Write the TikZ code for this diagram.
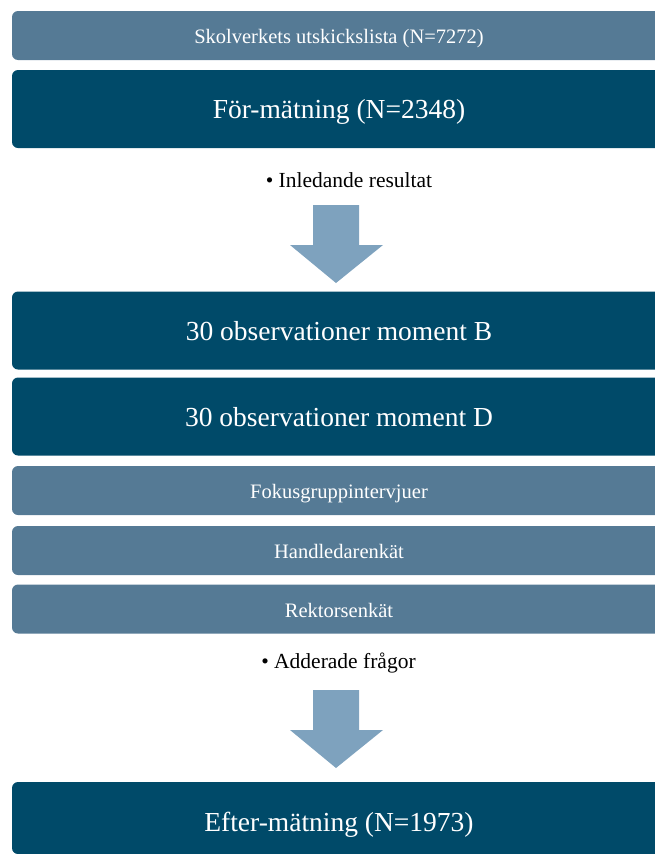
\documentclass[tikz,border=0pt]{standalone}
\usepackage{fontspec}
\setmainfont{Liberation Serif}
\definecolor{lightbox}{HTML}{557A95}
\definecolor{darkbox}{HTML}{004A69}
\definecolor{arrowblue}{HTML}{7EA2BE}
\begin{document}
\begin{tikzpicture}[x=1pt,y=-1pt,
  boxbase/.style={rounded corners=6pt, inner sep=0pt, minimum width=654pt, text=white, anchor=center},
  smallbox/.style={boxbase, fill=lightbox, minimum height=49pt, font=\fontsize{20.5}{24}\selectfont, text height=20pt, text depth=4pt},
  bigbox/.style={boxbase, fill=darkbox, minimum height=78pt, font=\fontsize{27.5}{32}\selectfont, text height=25pt, text depth=6pt},
  note/.style={font=\fontsize{21.5}{25}\selectfont, text=black, inner sep=0pt},
  blockarrow/.style={fill=arrowblue, draw=none}]
\useasboundingbox (0,0) rectangle (655,854);
\begin{scope}
\clip (0,0) rectangle (655,854);
\node[smallbox] (utskick) at (339,35.5) {Skolverkets utskickslista (N=7272)};
\node[bigbox] (fore) at (339,109) {För-mätning (N=2348)};
\node[note] (inled) at (349,180) {• Inledande resultat};
\node[bigbox] (obsB) at (339,330.5) {30 observationer moment B};
\node[bigbox] (obsD) at (339,416.5) {30 observationer moment D};
\node[smallbox] (fokus) at (339,490.5) {Fokusgruppintervjuer};
\node[smallbox] (handl) at (339,550.5) {Handledarenkät};
\node[smallbox] (rektor) at (339,609) {Rektorsenkät};
\node[note] (adder) at (338.5,663) {• Adderade frågor};
\node[bigbox, minimum height=72pt, text height=33pt] (efter) at (339,818) {Efter-mätning (N=1973)};
\end{scope}
\fill[blockarrow] (313,205) -- (359,205) -- (359,245) -- (383,245) -- (336,283) -- (290,245) -- (313,245) -- cycle;
\fill[blockarrow] (313,690) -- (359,690) -- (359,730) -- (383,730) -- (336,768) -- (290,730) -- (313,730) -- cycle;
\end{tikzpicture}
\end{document}
